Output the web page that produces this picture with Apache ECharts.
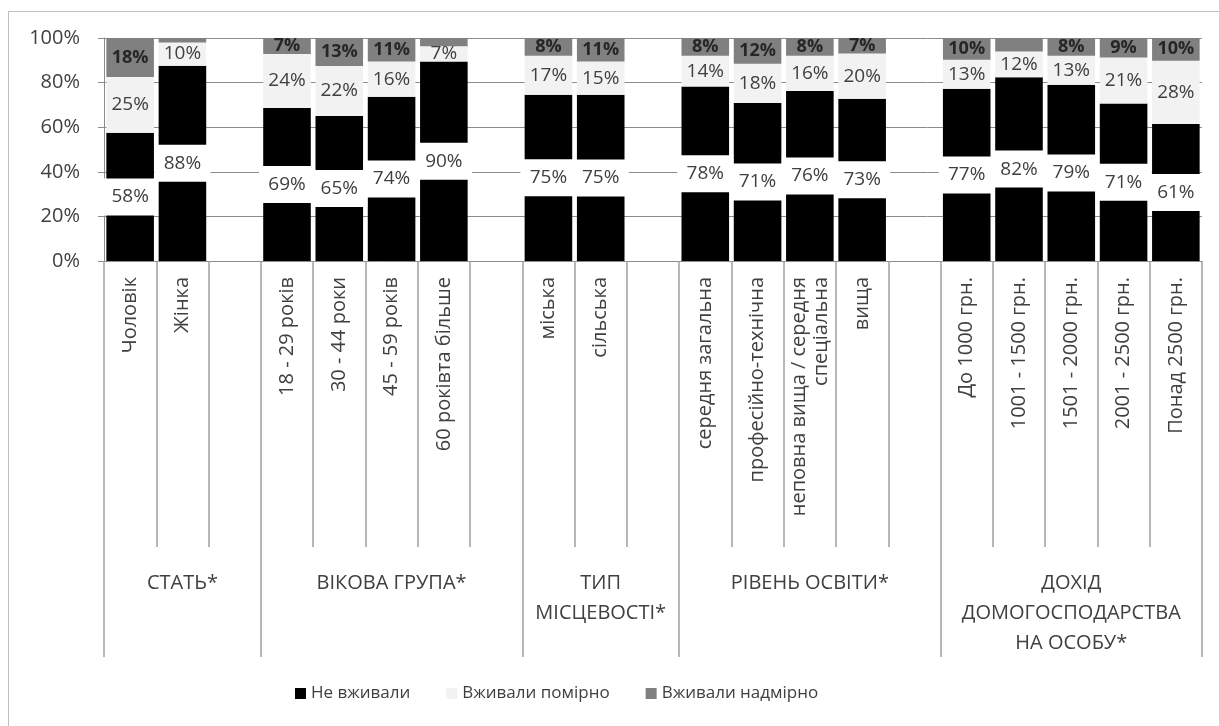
<!DOCTYPE html>
<html>
<head>
<meta charset="utf-8">
<script src="https://cdn.jsdelivr.net/npm/echarts@6/dist/echarts.min.js"></script>
<style>
  html, body { margin: 0; padding: 0; width: 1219px; height: 726px; overflow: hidden; background: #fff; }
  #frame { position: absolute; left: 8px; top: 11px; width: 1260px; height: 760px; border: 1px solid #bfbfbf; }
  #chart { position: absolute; left: 0; top: 0; width: 1219px; height: 726px; }
</style>
</head>
<body>
<div id="frame"></div>
<div id="chart"></div>
<script>
// ---- data ----
const categories = ['Чоловік', 'Жінка', '', '18 - 29 років', '30 - 44 роки', '45 - 59 років', '60 роківта більше', '',
  'міська', 'сільська', '', 'середня загальна', 'професійно-технічна', 'неповна вища / середня\nспеціальна', 'вища', '',
  'До 1000 грн.', '1001 - 1500 грн.', '1501 - 2000 грн.', '2001 - 2500 грн.', 'Понад 2500 грн.'];
const notUsed   = [57.5, 87.6, null, 68.6, 65.0, 73.6, 89.5, null, 74.6, 74.5, null, 78.2, 70.8, 76.2, 72.8, null, 77.2, 82.4, 79.0, 70.6, 61.4];
const moderate  = [25.0, 10.4, null, 24.2, 22.4, 15.9, 6.8, null, 17.4, 15.0, null, 13.8, 17.7, 15.8, 20.2, null, 13.0, 11.6, 13.0, 20.6, 28.4];
const excessive = [17.5, 2.0, null, 7.2, 12.6, 10.5, 3.7, null, 8.0, 10.5, null, 8.0, 11.5, 8.0, 7.0, null, 9.8, 6.0, 8.0, 8.8, 10.2];
const excessiveNoLabel = ['Жінка', '60 роківта більше', '1001 - 1500 грн.'];
const groupNames = ['СТАТЬ*', 'ВІКОВА ГРУПА*', 'ТИП\nМІСЦЕВОСТІ*', 'РІВЕНЬ ОСВІТИ*', 'ДОХІД\nДОМОГОСПОДАРСТВА\nНА ОСОБУ*'];
const groupSizes = [3, 5, 3, 5, 5];
const seriesNames = ['Не вживали', 'Вживали помірно', 'Вживали надмірно'];
const yTicks = [0, 20, 40, 60, 80, 100];

// ---- build group axis ----
const groupAxisData = categories.map(() => '');
const groupStarts = [];
let s = 0;
groupSizes.forEach((n, g) => {
  groupStarts.push(s);
  groupAxisData[s + Math.floor(n / 2)] = groupNames[g];
  s += n;
});
const labelIdx = new Set(groupAxisData.map((v, i) => v ? i : -1).filter(i => i >= 0));
const startIdx = new Set(groupStarts);

const FONT = 'Open Sans';
const TXT = '#404040';
const pct = p => Math.round(p.value) + '%';

const chart = echarts.init(document.getElementById('chart'), null, { renderer: 'canvas' });
chart.setOption({
  animation: false,
  textStyle: { fontFamily: FONT },
  grid: { left: 104, right: 17, top: 38, bottom: 465, containLabel: false },
  legend: {
    data: seriesNames,
    top: 680,
    left: 290,
    itemWidth: 11, itemHeight: 11, itemGap: 36,
    icon: 'rect',
    textStyle: { fontSize: 17, color: TXT, fontFamily: FONT }
  },
  xAxis: [
    {
      type: 'category',
      data: categories,
      axisLine: { show: true, lineStyle: { color: '#8c8c8c', width: 1 } },
      axisTick: { show: true, interval: 0, length: 286, lineStyle: { color: '#a0a0a0', width: 1.5 } },
      axisLabel: { interval: 0, rotate: 90, margin: 16, fontSize: 20, color: TXT, fontFamily: FONT, lineHeight: 22 }
    },
    {
      type: 'category',
      data: groupAxisData,
      position: 'bottom',
      axisLine: { show: false },
      axisTick: { show: true, interval: (i) => startIdx.has(i), length: 396, lineStyle: { color: '#a0a0a0', width: 1.5 } },
      axisLabel: { interval: (i) => labelIdx.has(i), margin: 307, fontSize: 20, color: TXT, fontFamily: FONT, lineHeight: 30, align: 'center' }
    }
  ],
  yAxis: {
    type: 'value',
    min: 0, max: 100, interval: 20,
    axisLine: { show: true, lineStyle: { color: '#8c8c8c' } },
    axisTick: { show: true, length: 6, lineStyle: { color: '#8c8c8c' } },
    splitLine: { show: true, lineStyle: { color: '#8c8c8c', width: 1 } },
    axisLabel: { formatter: v => yTicks.includes(v) ? v + '%' : '', fontSize: 20, color: TXT, fontFamily: FONT, margin: 24 }
  },
  series: [
    {
      name: seriesNames[0], type: 'bar', stack: 'all', data: notUsed,
      barCategoryGap: '9%',
      itemStyle: { color: '#000000' },
      label: {
        show: true, position: 'inside', formatter: pct,
        color: TXT, fontSize: 19, fontFamily: FONT,
        backgroundColor: '#ffffff', width: 56, align: 'center', lineHeight: 20, padding: [8.5, 0]
      }
    },
    {
      name: seriesNames[1], type: 'bar', stack: 'all', data: moderate,
      itemStyle: { color: '#f2f2f2' },
      label: { show: true, position: 'inside', formatter: pct, color: TXT, fontSize: 19, fontFamily: FONT }
    },
    {
      name: seriesNames[2], type: 'bar', stack: 'all',
      data: excessive.map((v, i) => excessiveNoLabel.includes(categories[i]) ? { value: v, label: { show: false } } : v),
      itemStyle: { color: '#808080' },
      label: { show: true, position: 'inside', formatter: pct, color: '#262626', fontSize: 18, fontWeight: 'bold', fontFamily: FONT }
    }
  ]
});
</script>
</body>
</html>
